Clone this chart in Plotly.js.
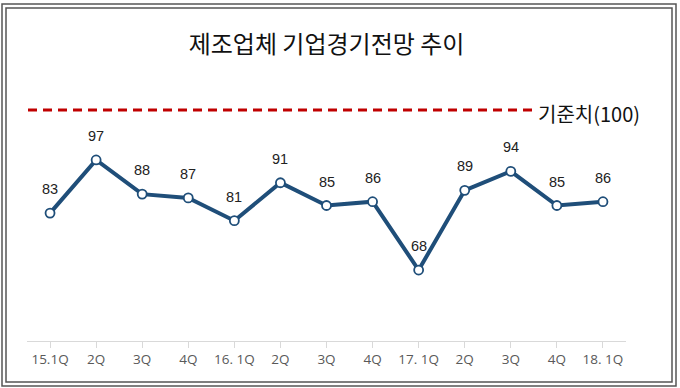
<!DOCTYPE html>
<html>
<head>
<meta charset="utf-8">
<script src="https://cdn.plot.ly/plotly-3.0.1.min.js"></script>
<style>
html,body{margin:0;padding:0;background:#fff;}
#chart{width:680px;height:388px;}
</style>
</head>
<body>
<div id="chart"></div>
<script>
const categories = ["15.1Q","2Q","3Q","4Q","16. 1Q","2Q","3Q","4Q","17. 1Q","2Q","3Q","4Q","18. 1Q"];
const values = [83, 97, 88, 87, 81, 91, 85, 86, 68, 89, 94, 85, 86];
const baselineLabel = "기준치(100)";
const titleText = "제조업체 기업경기전망 추이";

const xIdx = categories.map((_, i) => i);
const lineColor = "#1f4e79";

const trace = {
  x: xIdx,
  y: values,
  type: "scatter",
  mode: "lines+markers",
  line: {color: lineColor, width: 4},
  marker: {symbol: "circle", size: 9, color: "#ffffff", line: {color: lineColor, width: 1.8}},
  hoverinfo: "skip",
  cliponaxis: false
};

const labelAnns = values.map((v, i) => ({
  x: i, y: v, xref: "x", yref: "y",
  text: String(v), showarrow: false,
  yshift: 24,
  font: {family: "Liberation Sans, Arial, sans-serif", size: 14.5, color: "#222222"}
}));

const layout = {
  width: 680,
  height: 388,
  margin: {l: 27, r: 54, t: 100, b: 47},
  paper_bgcolor: "#ffffff",
  plot_bgcolor: "#ffffff",
  showlegend: false,
  title: {
    text: titleText,
    x: 0.5, xref: "paper", xanchor: "center",
    y: 1 - 45/388, yref: "container", yanchor: "middle",
    font: {family: "Noto Sans CJK KR, sans-serif", size: 24, color: "#111111"}
  },
  xaxis: {
    range: [-0.5, 12.5],
    tickmode: "array",
    tickvals: xIdx,
    ticktext: categories,
    tickson: "boundaries",
    ticks: "outside",
    ticklen: 6,
    tickcolor: "#d9d9d9",
    showline: true,
    linecolor: "#d9d9d9",
    linewidth: 1,
    showgrid: false,
    zeroline: false,
    tickfont: {family: "Open Sans, Noto Sans, sans-serif", size: 13.5, color: "#595959"},
    fixedrange: true
  },
  yaxis: {
    range: [49.3, 112.8],
    visible: false,
    showgrid: false,
    zeroline: false,
    fixedrange: true
  },
  shapes: [
    {type: "rect", xref: "paper", yref: "paper",
     x0: (2-27)/599, x1: (676-27)/599, y0: (341-386)/241, y1: (341-4)/241,
     line: {color: "#555555", width: 1.5}, fillcolor: "rgba(0,0,0,0)"},
    {type: "rect", xref: "paper", yref: "paper",
     x0: (6-27)/599, x1: (672-27)/599, y0: (341-382)/241, y1: (341-8)/241,
     line: {color: "#555555", width: 1.5}, fillcolor: "rgba(0,0,0,0)"},
    {type: "line", xref: "paper", yref: "paper",
     x0: (28-27)/599, x1: (535-27)/599, y0: (341-110)/241, y1: (341-110)/241,
     line: {color: "#c00000", width: 3, dash: "9px,6px"}}
  ],
  annotations: labelAnns.concat([
    {xref: "paper", yref: "paper", x: (536-27)/599, y: (341-113)/241,
     xanchor: "left", yanchor: "middle", showarrow: false,
     text: baselineLabel,
     font: {family: "Noto Sans CJK KR, sans-serif", size: 20, color: "#111111"}}
  ])
};

Plotly.newPlot("chart", [trace], layout, {displayModeBar: false, staticPlot: true});
</script>
</body>
</html>
